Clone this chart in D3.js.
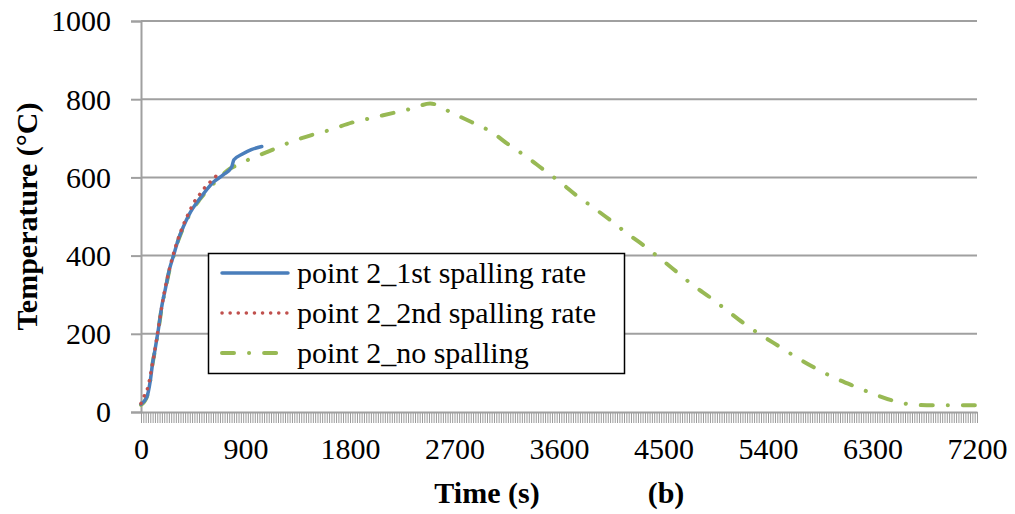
<!DOCTYPE html>
<html>
<head>
<meta charset="utf-8">
<script src="https://cdn.jsdelivr.net/npm/d3@7"></script>
<style>
  body { margin: 0; background: #fff; }
  svg { display: block; }
  text { font-family: "Liberation Serif", "Times New Roman", serif; fill: #000; }
</style>
</head>
<body>
<svg id="chart" width="1015" height="514"></svg>
<script>
// ---- data ----
const seriesNames = ["point 2_1st spalling rate", "point 2_2nd spalling rate", "point 2_no spalling"];

const time1st = [0, 50, 80, 100, 120, 150, 180, 210, 245, 280, 320, 365, 420, 510, 620, 710, 780, 800, 870, 950, 1040];
const temp1st = [20, 38, 80, 125, 158, 212, 272, 315, 365, 400, 440, 474, 508, 547, 587, 607, 626, 645, 659, 671, 679];

const time2nd = [0, 20, 50, 100, 150, 200, 250, 300, 350, 400, 470, 515, 555, 605, 655];
const temp2nd = [22, 37, 54, 125, 215, 305, 372, 425, 468, 502, 543, 560, 576, 591, 606];

const timeNo = [0, 50, 80, 100, 120, 150, 180, 210, 245, 280, 320, 365, 420, 510, 635, 765, 825, 945, 1110, 1285, 1455, 1635, 1815, 1985, 2175, 2345, 2490, 2690, 2850, 3020, 3165, 3315, 3465, 3610, 3750, 3895, 4040, 4185, 4325, 4470, 4615, 4755, 4915, 5050, 5200, 5350, 5500, 5660, 5815, 5975, 6150, 6320, 6490, 6675, 6850, 7035, 7200];
const tempNo = [18, 38, 80, 124, 157, 210, 270, 313, 363, 398, 438, 472, 506, 545, 587, 622, 631, 648, 668, 690, 707, 722, 740, 752, 765, 777, 789, 763, 741, 716, 684, 654, 620, 588, 554, 523, 491, 457, 427, 393, 358, 324, 290, 259, 225, 195, 167, 137, 111, 87, 65, 45, 28, 18, 17, 17, 17];

const xTickLabels = [0, 900, 1800, 2700, 3600, 4500, 5400, 6300, 7200];
const yTickLabels = [0, 200, 400, 600, 800, 1000];
const categoryStep = 20; // seconds between category ticks on the time axis

// ---- layout ----
const svg = d3.select("#chart");
const mLeft = 141, mRight = 977, mTop = 21, mBottom = 412;

const x = d3.scaleLinear().domain([0, 7200]).range([mLeft, mRight]);
const y = d3.scaleLinear().domain([0, 1000]).range([mBottom, mTop]);

const gridColor = "#a0a0a0";

// gridlines
svg.append("g")
  .selectAll("line")
  .data(yTickLabels.filter(d => d > 0))
  .join("line")
  .attr("x1", mLeft).attr("x2", mRight)
  .attr("y1", d => y(d)).attr("y2", d => y(d))
  .attr("stroke", gridColor).attr("stroke-width", 2);

// y axis
const yAxis = d3.axisLeft(y).tickValues(yTickLabels).tickSize(10).tickPadding(20).tickFormat(d3.format("d"));
const gy = svg.append("g").attr("transform", `translate(${mLeft},0)`).call(yAxis);
gy.select(".domain").attr("stroke", gridColor).attr("stroke-width", 2);
gy.selectAll(".tick line").attr("stroke", gridColor).attr("stroke-width", 2);
gy.selectAll(".tick text").style("font-size", "30px").attr("font-family", "Liberation Serif").attr("dy", "0.33em");

// x axis: dense category ticks
const minorTicks = d3.range(0, 7200 + 0.001, categoryStep);
const xMinor = d3.axisBottom(x).tickValues(minorTicks).tickSize(11).tickFormat("");
const gxm = svg.append("g").attr("transform", `translate(0,${mBottom})`).call(xMinor);
gxm.select(".domain").remove();
gxm.selectAll(".tick line").attr("stroke", "#9a9a9a").attr("stroke-width", 1);

const xAxis = d3.axisBottom(x).tickValues(xTickLabels).tickSize(0).tickPadding(26).tickFormat(d3.format("d"));
const gx = svg.append("g").attr("transform", `translate(0,${mBottom})`).call(xAxis);
gx.select(".domain").attr("stroke", gridColor).attr("stroke-width", 2);
gx.selectAll(".tick text").style("font-size", "30px").attr("font-family", "Liberation Serif");

// lines
const line = d3.line().x(d => x(d[0])).y(d => y(d[1])).curve(d3.curveMonotoneX);
const zip = (a, b) => a.map((v, i) => [v, b[i]]);

const styles = [
  { color: "#4a7ebb", width: 3.5, dash: null },
  { color: "#c0504d", width: 3.5, dash: "0.1 8" },
  { color: "#98b954", width: 4, dash: "12 15 0.1 15" }
];
const seriesData = [zip(timeNo, tempNo), zip(time1st, temp1st), zip(time2nd, temp2nd)];
const order = [2, 0, 1];

seriesData.forEach((data, i) => {
  const s = styles[order[i]];
  svg.append("path")
    .datum(data)
    .attr("d", line)
    .attr("fill", "none")
    .attr("stroke", s.color)
    .attr("stroke-width", s.width)
    .attr("stroke-linecap", "round")
    .attr("stroke-linejoin", "round")
    .attr("stroke-dasharray", s.dash);
});

// legend
const lg = svg.append("g");
lg.append("rect")
  .attr("x", 208.5).attr("y", 253.5).attr("width", 416).attr("height", 120)
  .attr("fill", "#fff").attr("stroke", "#000").attr("stroke-width", 1.5);
seriesNames.forEach((name, i) => {
  const cy = 273 + i * 40;
  const s = styles[i];
  lg.append("line")
    .attr("x1", 222).attr("x2", 288).attr("y1", cy).attr("y2", cy)
    .attr("stroke", s.color).attr("stroke-width", s.width)
    .attr("stroke-linecap", "round")
    .attr("stroke-dasharray", s.dash);
  lg.append("text")
    .attr("x", 297).attr("y", cy).attr("dy", "0.33em")
    .style("font-size", "30px")
    .text(name);
});

// axis titles
svg.append("text")
  .attr("transform", `translate(37,${(mTop + mBottom) / 2}) rotate(-90)`)
  .attr("text-anchor", "middle")
  .style("font-size", "30px").style("font-weight", "bold")
  .text("Temperature (°C)");

svg.append("text")
  .attr("x", 487).attr("y", 503)
  .attr("text-anchor", "middle")
  .style("font-size", "30px").style("font-weight", "bold")
  .text("Time (s)");

svg.append("text")
  .attr("x", 666).attr("y", 503)
  .attr("text-anchor", "middle")
  .style("font-size", "30px").style("font-weight", "bold")
  .text("(b)");
</script>
</body>
</html>
